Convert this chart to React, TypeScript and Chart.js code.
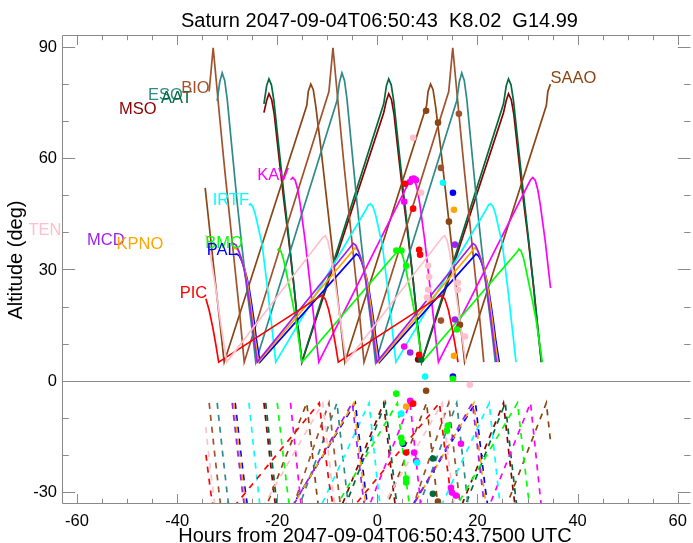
import { useEffect, useRef } from "react";
import { Chart, registerables } from "chart.js";

Chart.register(...registerables);

type P = [number, number];

// ---------- object altitude (deg) vs hours ----------
const msoAlt: P[] = [
  [-22.66, 72.3], [-22.11, 75.6], [-21.66, 77.4], [-21.11, 75.8], [-20.61, 72], [-19.71, 61], [-18.71, 49], [-17.71, 38], [-16.71, 26], [-15.81, 14], [-15.06, 5],
  [1.27, 72.3], [1.82, 75.6], [2.27, 77.4], [2.82, 75.8], [3.32, 72], [4.22, 61], [5.22, 49], [6.22, 38], [7.22, 26], [8.12, 14], [8.87, 5],
  [25.2, 72.3], [25.75, 75.6], [26.2, 77.4], [26.75, 75.8], [27.25, 72], [28.15, 61], [29.15, 49], [30.15, 38], [31.15, 26], [32.05, 14], [32.8, 5],
];
const aatAlt: P[] = [
  [-22.66, 74.7], [-22.11, 79.6], [-21.66, 81.4], [-21.16, 79.8], [-20.66, 75.5], [-19.76, 64], [-18.76, 51.5], [-17.76, 39.5], [-16.76, 27], [-15.86, 15], [-15.11, 5],
  [1.27, 74.7], [1.82, 79.6], [2.27, 81.4], [2.77, 79.8], [3.27, 75.5], [4.17, 64], [5.17, 51.5], [6.17, 39.5], [7.17, 27], [8.07, 15], [8.82, 5],
  [25.2, 74.7], [25.75, 79.6], [26.2, 81.4], [26.7, 79.8], [27.2, 75.5], [28.1, 64], [29.1, 51.5], [30.1, 39.5], [31.1, 27], [32.0, 15], [32.75, 5],
];
const esoAlt: P[] = [
  [-32.0, 75.5], [-31.5, 80.5], [-31.0, 83], [-30.5, 81], [-30.0, 76], [-29.0, 62], [-28.0, 48], [-27.0, 35.5], [-26.0, 24], [-25.0, 13.5], [-24.3, 5],
  [-8.07, 75.5], [-7.57, 80.5], [-7.07, 83], [-6.57, 81], [-6.07, 76], [-5.07, 62], [-4.07, 48], [-3.07, 35.5], [-2.07, 24], [-1.07, 13.5], [-0.37, 5],
  [15.86, 75.5], [16.36, 80.5], [16.86, 83], [17.36, 81], [17.86, 76], [18.86, 62], [19.86, 48], [20.86, 35.5], [21.86, 24], [22.86, 13.5], [23.56, 5],
];
const bioAlt: P[] = [
  [-33.6, 78], [-32.8, 89.8], [-32.5, 85.5], [-31.5, 71], [-30.5, 57], [-29.5, 44], [-28.5, 31], [-27.5, 18], [-26.6, 5],
  [-9.67, 78], [-8.87, 89.8], [-8.57, 85.5], [-7.57, 71], [-6.57, 57], [-5.57, 44], [-4.57, 31], [-3.57, 18], [-2.67, 5],
  [14.26, 78], [15.06, 89.8], [15.36, 85.5], [16.36, 71], [17.36, 57], [18.36, 44], [19.36, 31], [20.36, 18], [21.26, 5],
];
const saaoAlt: P[] = [
  [-34.4, 52], [-33.4, 39.5], [-32.4, 27], [-31.4, 15], [-30.6, 5],
  [-14.1, 74.2], [-13.8, 78], [-13.3, 80], [-12.8, 78.5], [-12.3, 74], [-11.3, 63], [-10.3, 51], [-9.3, 39], [-8.3, 27], [-7.3, 15], [-6.5, 5],
  [9.83, 74.2], [10.13, 78], [10.63, 80], [11.13, 78.5], [11.63, 74], [12.63, 63], [13.63, 51], [14.63, 39], [15.63, 27], [16.63, 15], [17.43, 5],
  [33.76, 74.2], [34.06, 78], [34.56, 80],
];
const kavAlt: P[] = [
  [-17.35, 54.2], [-16.9, 54.8], [-16.4, 54], [-15.9, 51.5], [-15.4, 47.5], [-14.4, 37.5], [-13.4, 25.5], [-12.4, 13.5], [-11.7, 5],
  [6.55, 54.2], [7.0, 54.8], [7.5, 54], [8.0, 51.5], [8.5, 47.5], [9.5, 37.5], [10.5, 25.5], [11.5, 13.5], [12.2, 5],
  [30.6, 54.2], [31.05, 54.8], [31.55, 54], [32.05, 51.5], [32.55, 47.5], [33.55, 37.5], [34.6, 25],
];
const irtfAlt: P[] = [
  [-25.65, 47.3], [-25.4, 47.7], [-24.9, 47], [-24.4, 45], [-23.9, 42], [-23.0, 36.5], [-22.0, 25.5], [-21.0, 13.5], [-20.3, 5],
  [-2.2, 46.3], [-1.8, 47.4], [-1.4, 47.7], [-0.9, 47], [-0.4, 45], [0.1, 42], [1.0, 36.5], [2.0, 25.5], [3.0, 13.5], [3.7, 5],
  [21.8, 46.3], [22.2, 47.4], [22.6, 47.7], [23.1, 47], [23.6, 45], [24.1, 42], [25.0, 36.5], [26.0, 25.5], [27.0, 13.5], [27.7, 5],
];
const tenAlt: P[] = [
  [-34.3, 39.3], [-33.8, 37.5], [-33.3, 33.5], [-32.3, 25], [-31.3, 15.5], [-30.1, 5],
  [-10.9, 38.6], [-10.4, 39.1], [-9.9, 37.8], [-9.4, 34.5], [-8.4, 26], [-7.4, 16.5], [-6.2, 5],
  [12.95, 38.6], [13.45, 39.1], [13.95, 37.8], [14.45, 34.5], [15.45, 26], [16.45, 16.5], [17.65, 5],
];
const mcdAlt: P[] = [
  [-29.0, 36.8], [-28.7, 37], [-28.2, 36.5], [-27.7, 35], [-27.2, 33], [-26.7, 30.5], [-26.2, 27], [-25.7, 22.5], [-25.2, 17.5], [-24.7, 12], [-24.0, 5],
  [-5.3, 36.2], [-4.8, 37], [-4.3, 36.5], [-3.8, 35], [-3.3, 33], [-2.8, 30.5], [-2.3, 27], [-1.8, 22.5], [-1.3, 17.5], [-0.8, 12], [-0.1, 5],
  [18.6, 36.2], [19.1, 37], [19.6, 36.5], [20.1, 35], [20.6, 33], [21.1, 30.5], [21.6, 27], [22.1, 22.5], [22.6, 17.5], [23.1, 12], [23.8, 5],
];
const kpnoAlt: P[] = [
  [-28.7, 35.6], [-28.4, 35.8], [-27.9, 35.3], [-27.4, 33.8], [-26.9, 31.8], [-26.4, 29.3], [-25.9, 26], [-25.4, 21.5], [-24.9, 16.5], [-24.4, 11], [-23.75, 5],
  [-4.95, 35.0], [-4.45, 35.8], [-3.95, 35.3], [-3.45, 33.8], [-2.95, 31.8], [-2.45, 29.3], [-1.95, 26], [-1.45, 21.5], [-0.95, 16.5], [-0.45, 11], [0.2, 5],
  [18.95, 35.0], [19.45, 35.8], [19.95, 35.3], [20.45, 33.8], [20.95, 31.8], [21.45, 29.3], [21.95, 26], [22.45, 21.5], [22.95, 16.5], [23.45, 11], [24.1, 5],
];
const palAlt: P[] = [
  [-28.4, 34.0], [-28.1, 34.2], [-27.6, 33.7], [-27.1, 32.3], [-26.6, 30.4], [-26.1, 28], [-25.6, 24.8], [-25.1, 20.5], [-24.6, 15.8], [-24.1, 10.5], [-23.45, 5],
  [-4.7, 33.4], [-4.2, 34.2], [-3.7, 33.7], [-3.2, 32.3], [-2.7, 30.4], [-2.2, 28], [-1.7, 24.8], [-1.2, 20.5], [-0.7, 15.8], [-0.2, 10.5], [0.45, 5],
  [19.2, 33.4], [19.7, 34.2], [20.2, 33.7], [20.7, 32.3], [21.2, 30.4], [21.7, 28], [22.2, 24.8], [22.7, 20.5], [23.2, 15.8], [23.7, 10.5], [24.35, 5],
];
const bmoAlt: P[] = [
  [-20.0, 35.2], [-19.7, 35.5], [-19.3, 35], [-18.8, 33], [-18.3, 30], [-17.7, 26], [-17.0, 21.5], [-16.3, 16.5], [-15.7, 11], [-15.05, 5],
  [3.9, 34.7], [4.3, 35.5], [4.7, 35], [5.2, 33], [5.7, 30], [6.3, 26], [7.0, 21.5], [7.7, 16.5], [8.3, 11], [8.95, 5],
  [27.9, 34.7], [28.3, 35.5], [28.7, 35], [29.2, 33], [29.7, 30], [30.3, 26], [31.0, 21.5], [31.7, 16.5], [32.3, 11], [32.95, 5],
];
const picAlt: P[] = [
  [-34.25, 22.1], [-33.6, 19], [-32.9, 14.5], [-32.3, 10], [-31.7, 5],
  [-11.6, 22.6], [-11.1, 23], [-10.4, 22], [-9.7, 19], [-9.0, 14.5], [-8.4, 10], [-7.8, 5],
  [12.3, 22.6], [12.8, 23], [13.5, 22], [14.2, 19], [14.9, 14.5], [15.5, 10], [16.1, 5],
];

// ---------- sun altitude (deg) at the same stations ----------
const msoSun: P[] = [
  [-22.66, -6], [-21.66, -18.5], [-20.66, -30.5], [-19.66, -41], [-15.06, -60],
  [1.27, -6], [2.27, -18.5], [3.27, -30.5], [4.27, -41], [8.87, -60],
  [25.2, -6], [26.2, -18.5], [27.2, -30.5], [28.2, -41], [32.8, -60],
];
const aatSun: P[] = [
  [-22.31, -6], [-21.31, -18.5], [-20.31, -30.5], [-19.31, -41], [-15.11, -64],
  [1.62, -6], [2.62, -18.5], [3.62, -30.5], [4.62, -41], [8.82, -64],
  [25.55, -6], [26.55, -18.5], [27.55, -30.5], [28.55, -41], [32.75, -64],
];
const esoSun: P[] = [
  [-32.0, -6], [-31.0, -18.5], [-30.0, -30.5], [-29.0, -41], [-24.3, -66],
  [-8.07, -6], [-7.07, -18.5], [-6.07, -30.5], [-5.07, -41], [-0.37, -66],
  [15.86, -6], [16.86, -18.5], [17.86, -30.5], [18.86, -41], [23.56, -66],
];
const bioSun: P[] = [
  [-33.6, -6], [-32.6, -18.5], [-31.6, -30.5], [-30.6, -41], [-26.6, -72],
  [-9.67, -6], [-8.67, -18.5], [-7.67, -30.5], [-6.67, -41], [-2.67, -72],
  [14.26, -6], [15.26, -18.5], [16.26, -30.5], [17.26, -41], [21.26, -72],
];
const saaoSun: P[] = [
  [-34.4, -48], [-30.6, -63],
  [-14.1, -6], [-13.1, -18.5], [-12.1, -30.5], [-11.1, -41], [-6.5, -63],
  [9.83, -6], [10.83, -18.5], [11.83, -30.5], [12.83, -41], [17.43, -63],
  [33.76, -6], [34.56, -16],
];
const kavSun: P[] = [
  [-17.35, -6], [-16.35, -19], [-15.35, -32], [-14.35, -44], [-13.35, -55], [-11.7, -68],
  [6.55, -6], [7.55, -19], [8.55, -32], [9.55, -44], [10.55, -55], [12.2, -68],
  [30.6, -6], [31.6, -19], [32.6, -32], [33.6, -44], [34.6, -55],
];
const irtfSun: P[] = [
  [-25.65, -6], [-24.65, -19], [-23.65, -31.5], [-22.65, -43], [-20.3, -60],
  [-1.65, -6], [-0.65, -19], [0.35, -31.5], [1.35, -43], [3.7, -60],
  [22.35, -6], [23.35, -19], [24.35, -31.5], [25.35, -43], [27.7, -60],
];
const tenSun: P[] = [
  [-34.3, -12.5], [-33.3, -24.5], [-32.3, -35.5], [-31.3, -44.5], [-30.1, -51],
  [-10.9, -6], [-9.9, -18], [-8.9, -29.5], [-7.9, -39.5], [-6.9, -47], [-6.2, -51],
  [12.95, -6], [13.95, -18], [14.95, -29.5], [15.95, -39.5], [16.95, -47], [17.65, -51],
];
const mcdSun: P[] = [
  [-29.0, -6], [-28.0, -18], [-27.0, -29.5], [-26.0, -39.5], [-25.0, -46.5], [-24.0, -50.5],
  [-5.0, -6], [-4.0, -18], [-3.0, -29.5], [-2.0, -39.5], [-1.0, -46.5], [-0.1, -50.5],
  [19.0, -6], [20.0, -18], [21.0, -29.5], [22.0, -39.5], [23.0, -46.5], [23.8, -50.5],
];
const kpnoSun: P[] = [
  [-28.7, -6], [-27.7, -18], [-26.7, -29.5], [-25.7, -39.5], [-24.7, -46], [-23.75, -49.5],
  [-4.7, -6], [-3.7, -18], [-2.7, -29.5], [-1.7, -39.5], [-0.7, -46], [0.2, -49.5],
  [19.3, -6], [20.3, -18], [21.3, -29.5], [22.3, -39.5], [23.3, -46], [24.1, -49.5],
];
const palSun: P[] = [
  [-28.4, -6], [-27.4, -18], [-26.4, -29.5], [-25.4, -39], [-24.4, -45], [-23.45, -48],
  [-4.4, -6], [-3.4, -18], [-2.4, -29.5], [-1.4, -39], [-0.4, -45], [0.45, -48],
  [19.6, -6], [20.6, -18], [21.6, -29.5], [22.6, -39], [23.6, -45], [24.35, -48],
];
const bmoSun: P[] = [
  [-20.0, -6], [-19.0, -18], [-18.0, -29.5], [-17.0, -39.5], [-16.0, -46], [-15.05, -49.5],
  [4.0, -6], [5.0, -18], [6.0, -29.5], [7.0, -39.5], [8.0, -46], [8.95, -49.5],
  [28.0, -6], [29.0, -18], [30.0, -29.5], [31.0, -39.5], [32.0, -46], [32.95, -49.5],
];
const picSun: P[] = [
  [-34.25, -20], [-33.25, -30.5], [-32.25, -37.5], [-31.7, -39],
  [-11.6, -6], [-10.6, -17.5], [-9.6, -28], [-8.6, -35.5], [-7.8, -39],
  [12.4, -6], [13.4, -17.5], [14.4, -28], [15.4, -35.5], [16.1, -39],
];

// ---------- event markers ----------
const msoDots: P[] = [[8.15, 5.7]];
const aatDots: P[] = [[8.74, 5.7], [11.1, -21], [11.1, -30.5]];
const esoDots: P[] = [];
const bioDots: P[] = [[16.29, 72.0], [12.7, 57.4], [12.7, 16.2]];
const saaoDots: P[] = [[9.74, 72.8], [12.12, 69.6], [14.3, 42.9], [16.5, 15.1], [9.74, -2.7], [12.1, -32.6]];
const kavDots: P[] = [[6.5, 53.6], [6.9, 54.4], [7.3, 54.5], [7.7, 54.1], [5.36, 48.3], [5.36, 9.2], [6.56, -5.4], [6.76, -6.2], [16.7, -17], [7.35, -19.4], [7.75, -21.6], [14.7, -28.9], [14.9, -30.2], [15.7, -31]];
const irtfDots: P[] = [[13.1, 53.4], [9.54, 1.1], [4.77, -8.9], [7.95, -22.1]];
const tenDots: P[] = [[7.15, 65.5], [8.74, 50.7], [10.13, 31], [10.33, 28], [10.13, 24.5], [9.93, 22.4], [16.1, 26.4], [16.1, 24.5], [17.5, 11.9], [18.48, -1.1]];
const mcdDots: P[] = [[15.5, 36.7], [15.5, 16.5], [6.56, 7.6]];
const kpnoDots: P[] = [[15.3, 46.1], [15.3, 6.7], [5.76, -7]];
const palDots: P[] = [[15.1, 50.7], [15.1, 1.1], [5.17, -17]];
const bmoDots: P[] = [[3.8, 35.1], [4.8, 35.1], [5.76, 31], [15.9, 13.8], [15.1, 0.5], [3.78, -3.5], [14.1, -12.1], [13.9, -13.5], [4.77, -15.4], [4.97, -16.7], [5.76, -26.4], [5.76, -27.5]];
const picDots: P[] = [[5.56, 53.1], [7.15, 46.4], [8.35, 35.3], [8.54, 34], [8.35, 7], [7.15, -6.2], [5.76, -19.4]];

// ---------- station labels (hours, deg) ----------
const labelAnchors: Record<string, P> = {
  MSO: [-51.6, 73.3], ESO: [-45.84, 76.9], AAT: [-43.2, 76.0], BIO: [-39.2, 78.8], SAAO: [34.6, 81.4],
  KAV: [-24.0, 55.3], IRTF: [-32.9, 48.5], TEN: [-69.7, 40.5], MCD: [-58.0, 37.9], KPNO: [-52.1, 36.8],
  BMO: [-34.4, 37.0], PAL: [-34.1, 35.0], PIC: [-39.5, 23.4],
};

// ---------- axes ----------
const xMajorTicks = [-60, -40, -20, 0, 20, 40, 60];
const xMinorTicks = [-55, -50, -45, -35, -30, -25, -15, -10, -5, 5, 10, 15, 25, 30, 35, 45, 50, 55];
const yMajorTicks = [-30, 0, 30, 60, 90];
const yMinorTicks = [-20, -10, 10, 20, 40, 50, 70, 80];
const titleText = "Saturn 2047-09-04T06:50:43  K8.02  G14.99";
const xTitleText = "Hours from 2047-09-04T06:50:43.7500 UTC";
const yTitleText = "Altitude (deg)";

const stations = [
  { name: "TEN", color: "#ffc0cb", alt: tenAlt, sun: tenSun, dots: tenDots },
  { name: "PIC", color: "#ff0000", alt: picAlt, sun: picSun, dots: picDots },
  { name: "MCD", color: "#a020f0", alt: mcdAlt, sun: mcdSun, dots: mcdDots },
  { name: "KPNO", color: "#ffa500", alt: kpnoAlt, sun: kpnoSun, dots: kpnoDots },
  { name: "BMO", color: "#00ff00", alt: bmoAlt, sun: bmoSun, dots: bmoDots },
  { name: "PAL", color: "#0000ff", alt: palAlt, sun: palSun, dots: palDots },
  { name: "IRTF", color: "#00ffff", alt: irtfAlt, sun: irtfSun, dots: irtfDots },
  { name: "KAV", color: "#ff00ff", alt: kavAlt, sun: kavSun, dots: kavDots },
  { name: "ESO", color: "#2e8b87", alt: esoAlt, sun: esoSun, dots: esoDots },
  { name: "BIO", color: "#a0522d", alt: bioAlt, sun: bioSun, dots: bioDots },
  { name: "SAAO", color: "#8b4513", alt: saaoAlt, sun: saaoSun, dots: saaoDots },
  { name: "AAT", color: "#006a3c", alt: aatAlt, sun: aatSun, dots: aatDots },
  { name: "MSO", color: "#8b0000", alt: msoAlt, sun: msoSun, dots: msoDots },
];

const FONT = '"Liberation Sans", Arial, Helvetica, sans-serif';
const AXIS = "#8a8a8a";

const toXY = (a: P[]) => a.map(([x, y]) => ({ x, y }));

const idlPlugin = {
  id: "idlAxes",
  beforeDatasetsDraw(chart: any) {
    const { ctx, chartArea: ca, scales } = chart;
    const y0 = Math.round(scales.y.getPixelForValue(0)) + 0.5;
    ctx.save();
    ctx.strokeStyle = AXIS;
    ctx.lineWidth = 1;
    ctx.beginPath();
    ctx.moveTo(ca.left, y0);
    ctx.lineTo(ca.right, y0);
    ctx.stroke();
    ctx.restore();
  },
  afterDraw(chart: any) {
    const { ctx, chartArea: ca, scales } = chart;
    const xs = scales.x;
    const ys = scales.y;
    ctx.save();
    ctx.strokeStyle = AXIS;
    ctx.lineWidth = 1;
    const L = Math.round(ca.left) + 0.5;
    const T = Math.round(ca.top) + 0.5;
    const B = Math.round(ca.bottom) + 0.5;
    const R = Math.round(ca.right) - 0.5;
    ctx.beginPath();
    ctx.moveTo(L, T); ctx.lineTo(R + 1, T);
    ctx.moveTo(L, B); ctx.lineTo(R + 1, B);
    ctx.moveTo(L, T); ctx.lineTo(L, B);
    const xt = (v: number, len: number) => {
      const px = Math.round(xs.getPixelForValue(v)) + 0.5;
      ctx.moveTo(px, B); ctx.lineTo(px, B - len);
      ctx.moveTo(px, T); ctx.lineTo(px, T + len);
    };
    const yt = (v: number, len: number) => {
      const py = Math.round(ys.getPixelForValue(v)) + 0.5;
      ctx.moveTo(L, py); ctx.lineTo(L + len, py);
      ctx.moveTo(R + 1, py); ctx.lineTo(R + 1 - len, py);
    };
    xMajorTicks.forEach((v) => xt(v, 9.5));
    xMinorTicks.forEach((v) => xt(v, 4.7));
    yMajorTicks.forEach((v) => yt(v, 12.7));
    yMinorTicks.forEach((v) => yt(v, 6.3));
    ctx.stroke();

    ctx.fillStyle = "#000";
    ctx.font = `16.5px ${FONT}`;
    ctx.textAlign = "center";
    ctx.textBaseline = "alphabetic";
    xMajorTicks.forEach((v) => ctx.fillText(String(v), xs.getPixelForValue(v), 525.5));
    ctx.textAlign = "right";
    ctx.textBaseline = "middle";
    yMajorTicks.forEach((v) => ctx.fillText(String(v), 57, ys.getPixelForValue(v) + 0.5));

    ctx.font = `20px ${FONT}`;
    ctx.textAlign = "center";
    ctx.textBaseline = "alphabetic";
    ctx.fillText(titleText, 379.5, 27);
    ctx.fillText(xTitleText, 375, 541.5);
    ctx.save();
    ctx.translate(22, 260);
    ctx.rotate(-Math.PI / 2);
    ctx.fillText(yTitleText, 0, 0);
    ctx.restore();

    ctx.font = `16.5px ${FONT}`;
    ctx.textAlign = "left";
    ctx.textBaseline = "middle";
    const order = ["TEN", "MCD", "KPNO", "PIC", "BMO", "PAL", "IRTF", "KAV", "ESO", "AAT", "BIO", "MSO", "SAAO"];
    order.forEach((n) => {
      const st = stations.find((s) => s.name === n)!;
      const [lx, ly] = labelAnchors[n];
      ctx.fillStyle = st.color;
      ctx.fillText(n, xs.getPixelForValue(lx), ys.getPixelForValue(ly));
    });
    ctx.restore();
  },
};

export default function App() {
  const ref = useRef<HTMLCanvasElement>(null);
  useEffect(() => {
    document.body.style.margin = "0";
    const datasets: any[] = [];
    stations.forEach((s) => {
      datasets.push({
        label: s.name + " dots",
        data: toXY(s.dots),
        showLine: false,
        pointRadius: 3.3,
        pointHoverRadius: 3.3,
        pointBackgroundColor: s.color,
        pointBorderColor: s.color,
        pointBorderWidth: 0,
        order: 0,
      });
      datasets.push({
        label: s.name,
        data: toXY(s.alt),
        borderColor: s.color,
        borderWidth: 1.7,
        pointRadius: 0,
        tension: 0,
        fill: false,
        order: 1,
      });
      datasets.push({
        label: s.name + " sun",
        data: toXY(s.sun),
        borderColor: s.color,
        borderWidth: 1.7,
        borderDash: [6, 6],
        pointRadius: 0,
        tension: 0,
        fill: false,
        order: 2,
      });
    });
    const chart = new Chart(ref.current!, {
      type: "line",
      data: { datasets },
      options: {
        animation: false,
        responsive: false,
        maintainAspectRatio: false,
        layout: { padding: { left: 62, top: 35, right: 0, bottom: 40 } },
        plugins: { legend: { display: false }, tooltip: { enabled: false }, title: { display: false } },
        events: [],
        scales: {
          x: { type: "linear", min: -63, max: 62.4, display: false },
          y: { type: "linear", min: -33, max: 93.25, display: false },
        },
      },
      plugins: [idlPlugin],
    });
    return () => chart.destroy();
  }, []);
  return (
    <div style={{ width: 693, height: 543 }}>
      <canvas ref={ref} width={693} height={543} style={{ display: "block", width: 693, height: 543 }} />
    </div>
  );
}
